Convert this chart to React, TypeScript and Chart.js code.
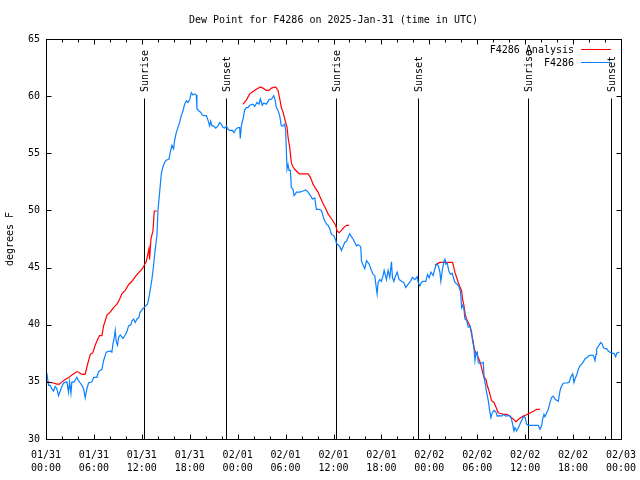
import React, { useEffect, useRef } from 'react';
import { Chart, registerables } from 'chart.js';

Chart.register(...registerables);

const TITLE = 'Dew Point for F4286 on 2025-Jan-31 (time in UTC)';
const Y_TITLE = 'degrees F';
const FONT = 'DejaVu Sans Mono';

const X_MIN = 0;
const X_MAX = 72;
const X_MAJOR = 6;
const X_MINOR = 2;
const Y_MIN = 30;
const Y_MAX = 65;
const Y_STEP = 5;

const xTickDates = ['01/31', '01/31', '01/31', '01/31', '02/01', '02/01', '02/01', '02/01', '02/02', '02/02', '02/02', '02/02', '02/03'];
const xTickTimes = ['00:00', '06:00', '12:00', '18:00', '00:00', '06:00', '12:00', '18:00', '00:00', '06:00', '12:00', '18:00', '00:00'];

const sunLabels = ['Sunrise', 'Sunset', 'Sunrise', 'Sunset', 'Sunrise', 'Sunset'];
const sunHours = [12.3, 22.55, 36.3, 46.6, 60.3, 70.7];
const sunLineTop = 59.8;

const analysisLabel = 'F4286 Analysis';
const analysisColor = '#ff0000';
const analysisHours = [
  0.1, 0.94, 1.36, 1.7, 2.0, 2.4, 2.8, 3.24, 3.66, 3.87, 4.2, 4.5, 4.9, 5.12, 5.33, 5.54, 5.87, 6.16, 6.46, 6.71,
  7.0, 7.21, 7.42, 7.63, 8.04, 8.46, 8.88, 9.21, 9.5, 9.92, 10.34, 10.76, 11.18, 11.6, 12.0, 12.3, 12.56, 12.76, 12.89, 12.97,
  13.14, 13.39, 13.56, 13.89,
  19,
  24.67, 25.09, 25.5, 25.92, 26.34, 26.84, 27.17, 27.59, 27.93, 28.22, 28.76, 29.05, 29.26, 29.47, 29.68, 30.01, 30.18, 30.31, 30.52, 30.72,
  30.85, 31.14, 31.56, 31.77, 32.4, 32.81, 33.11, 33.44, 33.77, 34.07, 34.36, 34.69, 35.03, 35.32, 35.61, 35.95, 36.28, 36.45, 36.7, 36.99,
  37.28, 37.62, 37.95,
  43,
  48.69, 49.3, 50.91, 51.07, 51.2, 51.41, 51.62, 51.83, 52.04, 52.16, 52.33, 52.5, 52.66, 52.87, 53.08, 53.29, 53.5, 53.62, 53.79, 54.0,
  54.21, 54.42, 54.67, 54.83, 55.08, 55.25, 55.5, 55.79, 56.09, 56.34, 56.63, 56.84, 57.26, 57.67, 58.01, 58.3, 58.6, 58.84, 59.14, 59.43,
  59.76, 60.1, 60.39, 60.68, 61.1, 61.43, 61.85,
];
const analysisValues = [
  35.0, 34.9, 34.8, 34.8, 35.0, 35.2, 35.35, 35.6, 35.8, 35.9, 35.8, 35.65, 35.65, 36.3, 36.85, 37.4, 37.55, 38.2, 38.7, 39.05,
  39.05, 39.9, 40.35, 40.85, 41.1, 41.5, 41.8, 42.2, 42.7, 43.0, 43.5, 43.8, 44.2, 44.55, 44.85, 45.2, 45.55, 46.2, 46.65, 45.7,
  47.5, 48.2, 49.95, 49.95,
  null,
  59.3, 59.65, 60.2, 60.4, 60.6, 60.8, 60.7, 60.5, 60.5, 60.7, 60.8, 60.5, 59.8, 59.0, 58.6, 57.7, 57.3, 56.4, 55.5, 54.2,
  53.9, 53.6, 53.3, 53.2, 53.2, 53.2, 52.9, 52.3, 51.9, 51.6, 51.1, 50.6, 50.15, 49.7, 49.4, 49.05, 48.7, 48.2, 48.05, 48.25,
  48.5, 48.7, 48.7,
  null,
  45.2, 45.45, 45.45, 45.0, 44.6, 44.15, 43.7, 43.3, 43.0, 42.25, 41.7, 40.9, 40.5, 40.2, 39.9, 39.2, 38.5, 37.9, 37.6, 37.3,
  37.0, 36.6, 35.85, 35.4, 35.25, 34.7, 34.15, 33.35, 33.2, 32.8, 32.3, 32.25, 32.15, 32.15, 32.05, 31.85, 31.7, 31.5, 31.7, 31.85,
  32.0, 32.1, 32.2, 32.3, 32.45, 32.6, 32.6,
];

const obsLabel = 'F4286';
const obsColor = '#0a80ff';
const obsHours = [
  0.1, 0.32, 0.52, 0.73, 0.94, 1.15, 1.36, 1.57, 1.78, 1.99, 2.2, 2.61, 2.82, 2.95, 3.12, 3.24, 3.53, 3.87, 4.07, 4.28,
  4.49, 4.7, 4.91, 5.12, 5.33, 5.75, 5.96, 6.37, 6.58, 7.0, 7.21, 7.54, 8.04, 8.25, 8.38, 8.55, 8.67, 8.8, 8.96, 9.09,
  9.3, 9.63, 9.92, 10.13, 10.34, 10.63, 10.76, 10.97, 11.18, 11.39, 11.6, 11.8, 12.14, 12.43, 12.72, 12.89, 13.06, 13.27, 13.47, 13.68,
  13.89, 14.02, 14.23, 14.44, 14.64, 14.85, 15.06, 15.4, 15.56, 15.77, 15.98, 16.1, 16.31, 16.52, 16.73, 16.94, 17.15, 17.36, 17.57, 17.78,
  17.99, 18.2, 18.4, 18.6, 18.82, 18.9, 19.15, 19.36, 19.57, 19.86, 20.07, 20.28, 20.49, 20.62, 20.78, 20.99, 21.24, 21.54, 21.75, 21.95,
  22.16, 22.37, 22.58, 22.79, 23.0, 23.33, 23.54, 23.75, 24.04, 24.25, 24.33, 24.46, 24.67, 24.88, 25.09, 25.3, 25.5, 25.92, 26.13, 26.42,
  26.67, 26.84, 27.09, 27.26, 27.59, 27.93, 28.26, 28.51, 28.68, 28.85, 29.05, 29.26, 29.47, 29.68, 29.89, 30.01, 30.1, 30.18, 30.31, 30.43,
  30.6, 30.72, 30.93, 31.06, 31.23, 31.35, 31.77, 32.19, 32.52, 32.81, 33.11, 33.36, 33.65, 33.86, 34.19, 34.49, 34.69, 34.9, 35.19, 35.32,
  35.53, 35.74, 36.03, 36.28, 36.37, 36.57, 36.78, 36.99, 37.2, 37.41, 37.62, 37.83, 38.04, 38.25, 38.45, 38.66, 38.87, 39.08, 39.29, 39.41,
  39.5, 39.71, 39.92, 40.13, 40.46, 40.75, 40.96, 41.17, 41.3, 41.46, 41.59, 41.8, 42.0, 42.21, 42.34, 42.51, 42.63, 42.84, 43.05, 43.26,
  43.38, 43.55, 43.8, 43.97, 44.22, 44.51, 44.8, 45.05, 45.35, 45.64, 45.89, 46.18, 46.47, 46.6, 46.81, 47.02, 47.23, 47.56, 47.77, 47.98,
  48.19, 48.48, 48.69, 48.9, 49.11, 49.32, 49.44, 49.65, 49.86, 49.95, 50.07, 50.24, 50.44, 50.66, 50.86, 51.07, 51.2, 51.49, 51.74, 51.91,
  52.04, 52.16, 52.33, 52.45, 52.66, 52.87, 53.08, 53.29, 53.41, 53.58, 53.71, 53.83, 54.0, 54.12, 54.33, 54.54, 54.75, 54.88, 55.04, 55.17,
  55.38, 55.59, 55.71, 55.88, 56.09, 56.34, 56.51, 56.76, 57.05, 57.26, 57.59, 57.88, 58.18, 58.3, 58.43, 58.6, 58.72, 58.93, 59.05, 59.26,
  59.43, 59.68, 59.85, 60.01, 60.18, 60.39, 60.81, 61.22, 61.64, 61.85, 62.06, 62.19, 62.35, 62.48, 62.69, 62.9, 63.11, 63.32, 63.52, 63.73,
  63.94, 64.15, 64.36, 64.48, 64.69, 64.86, 65.19, 65.49, 65.7, 65.95, 66.11, 66.24, 66.45, 66.66, 66.87, 67.07, 67.28, 67.49, 67.78, 68.03,
  68.33, 68.54, 68.75, 68.87, 68.95, 69.16, 69.45, 69.66, 69.79, 70.0, 70.2, 70.41, 70.62, 70.83, 71.12, 71.33, 71.46, 71.79,
];
const obsValues = [
  35.8, 34.7, 34.7, 34.4, 34.2, 34.6, 34.4, 33.8, 34.2, 34.6, 34.9, 35.0, 34.1, 35.0, 34.0, 35.0, 35.0, 35.4, 35.1, 34.9,
  34.7, 34.4, 33.6, 34.4, 34.9, 35.0, 35.4, 35.4, 35.9, 36.1, 36.85, 37.6, 37.7, 37.6, 38.3, 38.9, 39.5, 38.5, 38.2, 38.9,
  39.1, 38.8, 39.1, 39.4, 39.9, 40.0, 40.35, 40.5, 40.2, 40.5, 40.6, 41.1, 41.4, 41.6, 41.8, 42.4, 43.1, 44.0, 45.2, 46.6,
  47.8, 50.0, 51.6, 53.2, 53.8, 54.2, 54.4, 54.5, 55.1, 55.7, 55.4, 56.1, 56.8, 57.25, 57.7, 58.3, 58.7, 59.3, 59.6, 59.45,
  59.7, 60.3, 60.1, 60.2, 60.1, 58.9, 58.7, 58.6, 58.35, 58.3, 58.3, 57.9, 57.4, 57.8, 57.4, 57.4, 57.2, 57.4, 57.7, 57.55,
  57.25, 57.2, 57.4, 57.1, 57.0, 57.0, 56.8, 57.1, 57.25, 57.25, 56.3, 57.4, 58.0, 58.8, 59.0, 59.0, 59.2, 59.3, 59.1, 59.45,
  59.3, 59.75, 59.2, 59.4, 59.3, 59.7, 59.75, 60.05, 59.7, 59.0, 58.75, 58.3, 57.4, 57.4, 57.55, 57.0, 55.2, 53.6, 54.0, 53.5,
  53.5, 52.0, 51.85, 51.3, 51.45, 51.6, 51.6, 51.7, 51.8, 51.6, 51.3, 51.0, 51.1, 50.1, 50.1, 50.0, 49.5, 49.1, 48.75, 48.7,
  48.4, 47.9, 47.8, 47.4, 47.1, 47.0, 46.85, 46.5, 46.85, 47.2, 47.3, 47.65, 47.95, 47.7, 47.5, 47.2, 46.9, 47.0, 46.9, 46.8,
  45.6, 45.2, 44.9, 45.6, 45.3, 44.75, 44.4, 44.3, 43.55, 42.7, 43.7, 43.95, 43.8, 44.3, 44.75, 44.3, 43.95, 44.75, 44.15, 45.5,
  44.15, 43.8, 44.3, 44.6, 43.95, 43.8, 43.7, 43.25, 43.55, 43.8, 44.15, 43.95, 44.2, 43.7, 43.4, 43.7, 43.8, 43.8, 44.4, 44.1,
  44.6, 44.3, 44.9, 45.3, 45.2, 44.6, 43.8, 44.9, 45.6, 45.8, 45.3, 45.4, 44.7, 44.4, 44.5, 44.0, 43.7, 43.55, 43.3, 42.85,
  41.5, 41.7, 41.4, 40.5, 40.4, 39.8, 39.9, 39.4, 38.6, 38.0, 36.85, 37.45, 37.6, 36.7, 36.6, 36.65, 36.7, 35.25, 34.7, 34.1,
  33.35, 32.3, 31.85, 32.3, 32.5, 32.35, 32.0, 32.05, 32.0, 32.15, 32.0, 32.05, 31.95, 31.7, 31.3, 30.7, 31.0, 30.7, 30.85, 31.15,
  31.45, 31.8, 32.0, 31.85, 31.3, 31.2, 31.2, 31.2, 31.2, 30.85, 31.15, 31.75, 32.15, 31.95, 32.3, 32.6, 33.2, 33.65, 33.75, 33.5,
  33.4, 33.3, 34.2, 34.5, 34.8, 34.9, 34.9, 34.95, 35.4, 35.7, 34.95, 35.25, 35.6, 36.1, 36.4, 36.55, 36.75, 37.0, 37.15, 37.3,
  37.35, 37.3, 36.85, 37.4, 37.9, 38.1, 38.45, 38.3, 38.0, 37.9, 37.9, 37.7, 37.6, 37.5, 37.5, 37.2, 37.5, 37.6,
];

const gnuplotDecor = {
  id: 'gnuplotDecor',
  beforeDraw(chart: any) {
    const ctx = chart.ctx;
    ctx.save();
    ctx.fillStyle = '#ffffff';
    ctx.fillRect(0, 0, chart.width, chart.height);
    ctx.restore();
  },
  beforeDatasetsDraw(chart: any) {
    const ctx = chart.ctx;
    const xs = chart.scales.x;
    const ys = chart.scales.y;
    const { bottom } = chart.chartArea;
    const topY = ys.getPixelForValue(sunLineTop);
    ctx.save();
    ctx.strokeStyle = '#000';
    ctx.fillStyle = '#000';
    ctx.lineWidth = 1;
    ctx.font = `10px "${FONT}"`;
    sunHours.forEach((h, i) => {
      const x = Math.round(xs.getPixelForValue(h)) + 0.5;
      ctx.beginPath();
      ctx.moveTo(x, Math.round(bottom) + 0.5);
      ctx.lineTo(x, Math.round(topY) + 0.5);
      ctx.stroke();
      ctx.save();
      ctx.translate(x, Math.round(topY) - 6);
      ctx.rotate(-Math.PI / 2);
      ctx.textAlign = 'left';
      ctx.textBaseline = 'middle';
      ctx.fillText(sunLabels[i], 0, 1);
      ctx.restore();
    });
    ctx.restore();
  },
  afterDatasetsDraw(chart: any) {
    const ctx = chart.ctx;
    const xs = chart.scales.x;
    const ys = chart.scales.y;
    const { left, right, top, bottom } = chart.chartArea;
    const L = Math.round(left) + 0.5;
    const R = Math.round(right) + 0.5;
    const T = Math.round(top) + 0.5;
    const B = Math.round(bottom) + 0.5;
    ctx.save();
    ctx.strokeStyle = '#000';
    ctx.lineWidth = 1;
    ctx.beginPath();
    for (let h = X_MIN; h <= X_MAX; h += X_MINOR) {
      const x = Math.round(xs.getPixelForValue(h)) + 0.5;
      const len = h % X_MAJOR === 0 ? 5 : 3;
      ctx.moveTo(x, B);
      ctx.lineTo(x, B - len);
      ctx.moveTo(x, T);
      ctx.lineTo(x, T + len);
    }
    for (let v = Y_MIN; v <= Y_MAX; v += Y_STEP) {
      const y = Math.round(ys.getPixelForValue(v)) + 0.5;
      ctx.moveTo(L, y);
      ctx.lineTo(L + 5, y);
      ctx.moveTo(R, y);
      ctx.lineTo(R - 5, y);
    }
    ctx.stroke();
    ctx.strokeRect(L, T, R - L, B - T);

    // legend
    ctx.font = `10px "${FONT}"`;
    ctx.fillStyle = '#000';
    ctx.textAlign = 'right';
    ctx.textBaseline = 'middle';
    const items = [
      { label: analysisLabel, color: analysisColor },
      { label: obsLabel, color: obsColor },
    ];
    items.forEach((it, i) => {
      const y = Math.round(top) + 10 + i * 13;
      ctx.fillStyle = '#000';
      ctx.fillText(it.label, Math.round(right) - 47, y + 1);
      ctx.strokeStyle = it.color;
      ctx.beginPath();
      ctx.moveTo(Math.round(right) - 40, y + 0.5);
      ctx.lineTo(Math.round(right) - 10, y + 0.5);
      ctx.stroke();
    });

    // y axis title
    ctx.save();
    ctx.translate(10, (top + bottom) / 2);
    ctx.rotate(-Math.PI / 2);
    ctx.textAlign = 'center';
    ctx.textBaseline = 'middle';
    ctx.fillStyle = '#000';
    ctx.fillText(Y_TITLE, 0, 0);
    ctx.restore();
    ctx.restore();
  },
};

export default function App() {
  const ref = useRef<HTMLCanvasElement | null>(null);
  useEffect(() => {
    if (!ref.current) return;
    const analysisData = analysisHours.map((h, i) => ({ x: h, y: analysisValues[i] }));
    const obsData = obsHours.map((h, i) => ({ x: h, y: obsValues[i] }));
    const chart = new Chart(ref.current, {
      type: 'line',
      data: {
        datasets: [
          {
            label: analysisLabel,
            data: analysisData as any,
            borderColor: analysisColor,
            borderWidth: 1.2,
            pointRadius: 0,
            tension: 0,
            spanGaps: false,
            order: 1,
          },
          {
            label: obsLabel,
            data: obsData as any,
            borderColor: obsColor,
            borderWidth: 1.2,
            pointRadius: 0,
            tension: 0,
            order: 0,
          },
        ],
      },
      options: {
        animation: false,
        responsive: false,
        maintainAspectRatio: false,
        devicePixelRatio: 1,
        layout: { padding: { top: 0, right: 19, bottom: 0, left: 0 } },
        plugins: {
          legend: { display: false },
          tooltip: { enabled: false },
          title: {
            display: true,
            text: TITLE,
            fullSize: false,
            color: '#000',
            font: { family: FONT, size: 10, weight: 'normal', lineHeight: 1.2 },
            padding: { top: 14, bottom: 13 },
          },
        },
        scales: {
          x: {
            type: 'linear',
            min: X_MIN,
            max: X_MAX,
            grid: { display: false, drawTicks: false },
            border: { display: false },
            ticks: {
              stepSize: X_MAJOR,
              autoSkip: false,
              maxRotation: 0,
              padding: 10,
              color: '#000',
              font: { family: FONT, size: 10, lineHeight: 1.3 },
              callback: (_v: any, i: number) => [xTickDates[i], xTickTimes[i]],
            },
            afterFit: (s: any) => {
              s.height = 41;
              s.paddingLeft = 0;
              s.paddingRight = 0;
            },
          },
          y: {
            type: 'linear',
            min: Y_MIN,
            max: Y_MAX,
            grid: { display: false, drawTicks: false },
            border: { display: false },
            ticks: {
              stepSize: Y_STEP,
              padding: 6,
              color: '#000',
              font: { family: FONT, size: 10 },
            },
            afterFit: (s: any) => {
              s.width = 46;
              s.paddingTop = 0;
              s.paddingBottom = 0;
            },
          },
        },
      },
      plugins: [gnuplotDecor],
    });
    return () => chart.destroy();
  }, []);
  return (
    <div style={{ position: 'absolute', left: 0, top: 0, width: 640, height: 480, background: '#fff' }}>
      <canvas ref={ref} width={640} height={480} style={{ display: 'block' }} />
    </div>
  );
}
